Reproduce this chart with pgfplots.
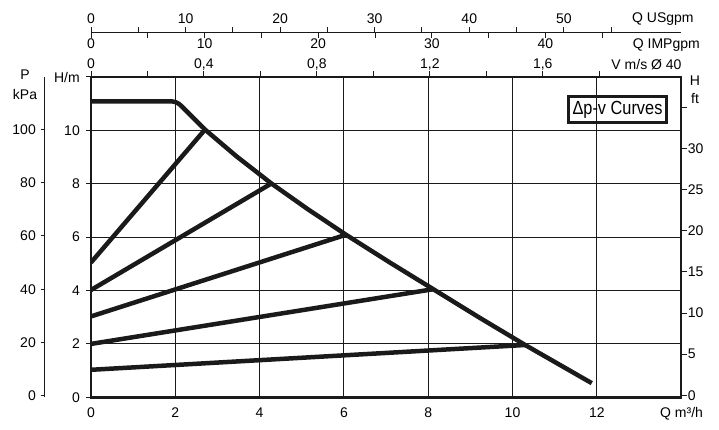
\documentclass[border=0pt]{standalone}
\usepackage{pgfplots}
\pgfplotsset{compat=1.18}
\usepackage{fontspec}
\setmainfont{Liberation Sans}
\newfontfamily\condfont[FakeStretch=0.86]{Liberation Sans}
\definecolor{ink}{HTML}{1A1A1A}
\begin{document}
\fontsize{14bp}{16bp}\selectfont
\begin{tikzpicture}
\path[use as bounding box] (0,0) rectangle (719bp,430bp);
% ---------------- main axis (Q m3/h vs H m)
\begin{axis}[
  at={(91bp,32.7bp)}, anchor=south west, scale only axis,
  width=590.1bp, height=320.3bp,
  xmin=0, xmax=14, ymin=0, ymax=12,
  axis line style={line width=2.5bp, ink},
  xtick={0,2,4,6,8,10,12}, xticklabels={0,2,4,6,8,10,12},
  ytick={0,2,4,6,8,10,12}, yticklabels={0,2,4,6,8,10,H/m},
  xtick pos=lower, ytick pos=left,
  grid=major, grid style={line width=1bp, ink},
  tick align=outside, major tick length=5bp,
  xtick style={draw=none},
  ytick style={line width=1bp, ink},
  xticklabel style={anchor=base, inner sep=0pt, yshift=-15.4bp},
  yticklabel style={anchor=east, inner sep=0pt, xshift=-6bp},
]
\addplot[line width=4.5bp, ink, line join=round] coordinates {
 (0,11.09) (1.886,11.088) (1.935,11.082) (1.979,11.069) (2.023,11.046)
 (2.064,11.013) (2.103,10.972) (2.138,10.923)
 (2.705,10.03) (3.45,9.03) (4.28,8.01) (5.15,7.04) (6.05,6.09) (7.1,5.04)
 (8.12,4.05) (9.2,3.0) (10.30,1.96) (11.88,0.53)};
\addplot[line width=4.5bp, ink] coordinates {(0,5.05) (2.705,10.03)};
\addplot[line width=4.5bp, ink] coordinates {(0,4.02) (4.28,8.01)};
\addplot[line width=4.5bp, ink] coordinates {(0,3.03) (6.05,6.09)};
\addplot[line width=4.5bp, ink] coordinates {(0,2.0) (8.12,4.05)};
\addplot[line width=4.5bp, ink] coordinates {(0,1.03) (10.30,1.96)};
\node[draw=ink, line width=3bp, minimum width=98.6bp, minimum height=26.3bp,
      inner sep=0pt, font=\condfont\fontsize{19bp}{20bp}\selectfont]
      at (rel axis cs:0.8922,0.8979) {Δp-v Curves};
\end{axis}
% ---------------- V m/s axis on top of box
\begin{axis}[
  at={(91bp,32.7bp)}, anchor=south west, scale only axis,
  width=590.1bp, height=320.3bp,
  xmin=0, xmax=2.090, ymin=0, ymax=1,
  axis x line*=top, hide y axis,
  axis line style={line width=2.5bp, ink},
  xtick={0,0.2,0.4,0.6,0.8,1.0,1.2,1.4,1.6,1.8},
  xticklabels={0,{},{0,4},{},{0,8},{},{1,2},{},{1,6},{}},
  tick align=outside, major tick length=6bp,
  xtick style={line width=1bp, ink},
  xticklabel style={anchor=base, inner sep=0pt, yshift=2.7bp},
]
\end{axis}
% ---------------- Q USgpm axis (ticks up)
\begin{axis}[
  at={(91bp,397.7bp)}, anchor=north west, scale only axis,
  width=590.1bp, height=1bp,
  xmin=0, xmax=62.40, ymin=0, ymax=1,
  axis x line*=top, hide y axis,
  axis line style={line width=1.2bp, ink},
  xtick={0,5,10,15,20,25,30,35,40,45,50,55},
  xticklabels={0,{},10,{},20,{},30,{},40,{},50,{}},
  tick align=outside, major tick length=5.5bp,
  xtick style={line width=1bp, ink},
  xticklabel style={anchor=base, inner sep=0pt, yshift=3.6bp},
]
\end{axis}
% ---------------- Q IMPgpm axis (ticks down)
\begin{axis}[
  at={(91bp,397.7bp)}, anchor=south west, scale only axis,
  width=590.1bp, height=1bp,
  xmin=0, xmax=51.94, ymin=0, ymax=1,
  axis x line*=bottom, hide y axis,
  axis line style={line width=1.2bp, ink},
  xtick={0,5,10,15,20,25,30,35,40,45},
  xticklabels={0,{},10,{},20,{},30,{},40,{}},
  tick align=outside, major tick length=5.3bp,
  xtick style={line width=1bp, ink},
  xticklabel style={anchor=base, inner sep=0pt, yshift=-10.7bp},
]
\end{axis}
% ---------------- P kPa axis
\begin{axis}[
  at={(44.3bp,32.7bp)}, anchor=south west, scale only axis,
  width=1bp, height=320.3bp,
  xmin=0, xmax=1, ymin=-0.5, ymax=119.6,
  axis y line*=left, hide x axis,
  axis line style={line width=1.2bp, ink},
  ytick={0,20,40,60,80,100}, yticklabels={0,20,40,60,80,100},
  tick align=outside, major tick length=3.6bp,
  ytick style={line width=1bp, ink},
  yticklabel style={anchor=east, inner sep=0pt, xshift=-4.7bp},
]
\end{axis}
% ---------------- H ft axis
\begin{axis}[
  at={(91bp,32.7bp)}, anchor=south west, scale only axis,
  width=590.1bp, height=320.3bp,
  xmin=0, xmax=1, ymin=-0.243, ymax=38.68,
  axis y line*=right, hide x axis,
  axis line style={line width=2.5bp, ink},
  ytick={0,5,10,15,20,25,30,35}, yticklabels={0,5,10,15,20,25,30,{}},
  tick align=outside, major tick length=5.5bp,
  ytick style={line width=1bp, ink},
  yticklabel style={anchor=west, inner sep=0pt, xshift=1.1bp},
]
\end{axis}
% ---------------- axis titles
\node[anchor=base, inner sep=0pt] at (25bp,350bp) {P};
\node[anchor=base, inner sep=0pt] at (25bp,330.7bp) {kPa};
\node[anchor=base, inner sep=0pt] at (695bp,344bp) {H};
\node[anchor=base, inner sep=0pt] at (695bp,326bp) {ft};
\node[anchor=base west, inner sep=0pt] at (632bp,407bp) {Q USgpm};
\node[anchor=base west, inner sep=0pt] at (632.7bp,381.5bp) {Q IMPgpm};
\node[anchor=base east, inner sep=0pt] at (681.7bp,360.5bp) {V m/s Ø 40};
\node[anchor=base west, inner sep=0pt] at (660bp,12.3bp) {Q m³/h};
\end{tikzpicture}
\end{document}
